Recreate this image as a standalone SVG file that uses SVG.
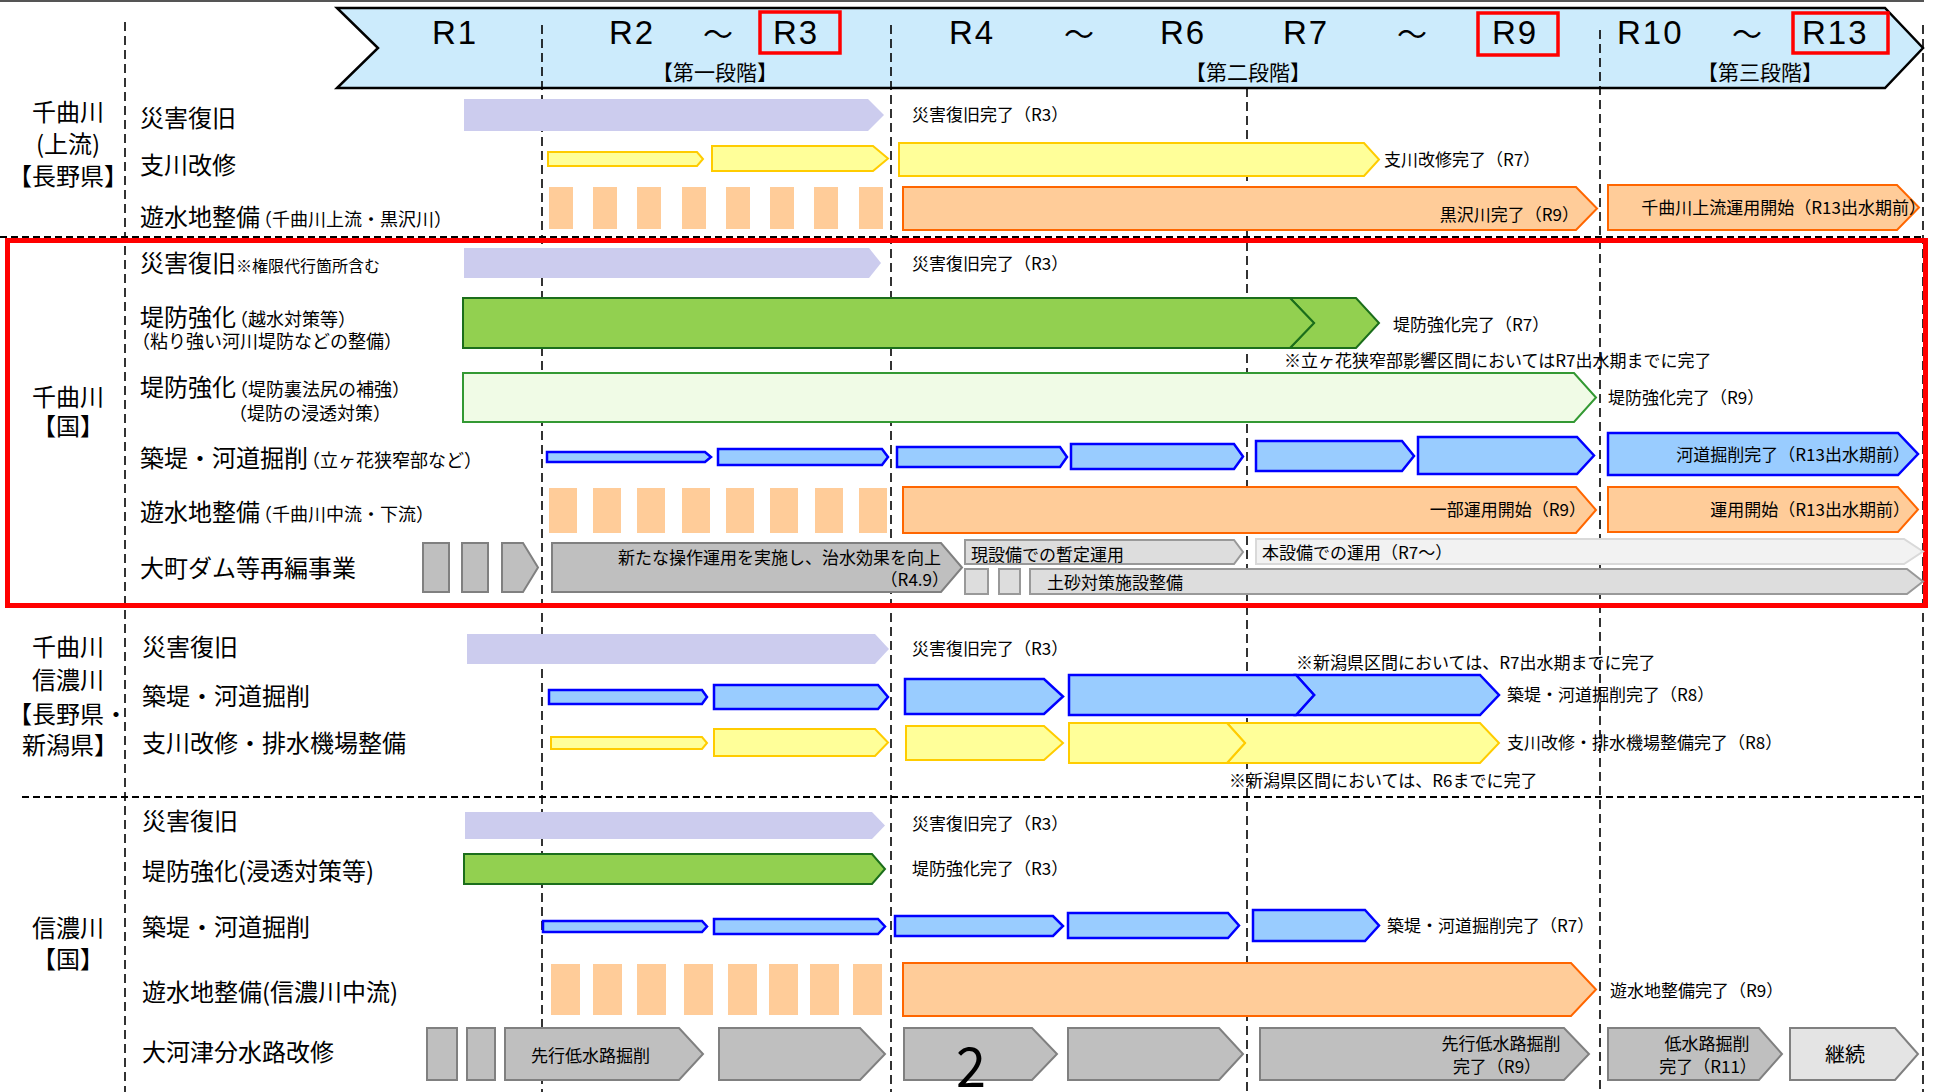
<svg xmlns="http://www.w3.org/2000/svg" width="1937" height="1092" viewBox="0 0 1937 1092">
<style>
text{font-family:"Noto Sans CJK JP","Noto Sans CJK SC",sans-serif;fill:#000}
.lbl{font-size:24px}
.sub{font-size:18px}
.ann{font-size:17px}
.hdr{font-family:"Liberation Sans",Arial,sans-serif;font-size:33px;letter-spacing:2px}
.til{font-size:30px}
.stg{font-size:21px}
.pur{fill:#CCCCEE}
.yel{fill:#FFFF99;stroke:#FFCC00;stroke-width:2}
.pch{fill:#FFCC99}
.org{fill:#FFCC99;stroke:#FF6600;stroke-width:2}
.blu{fill:#99CCFF;stroke:#0000FF;stroke-width:2.5}
.grn{fill:#92D050;stroke:#1B6E1B;stroke-width:2}
.lgr{fill:#F0FBE6;stroke:#339933;stroke-width:2}
.gry{fill:#BFBFBF;stroke:#808080;stroke-width:2}
.lgy{fill:#DDDDDD;stroke:#999999;stroke-width:2}
.vlg{fill:#F2F2F2;stroke:#D9D9D9;stroke-width:2}
.cnt{fill:#E4E4E4;stroke:#808080;stroke-width:2}
.vd{stroke:#000;stroke-width:1.6;stroke-dasharray:9 5;fill:none}
.hd{stroke:#000;stroke-width:2;stroke-dasharray:7 4;fill:none}
.rb{fill:none;stroke:#FF0000;stroke-width:3.5}
</style>
<rect x="0" y="0" width="1937" height="1092" fill="#FFFFFF"/>

<g id="grid">
<line x1="0" y1="1" x2="1924" y2="1" stroke="#555" stroke-width="2"/>
<line class="vd" x1="125" y1="22" x2="125" y2="1092"/>
<line class="vd" x1="542" y1="25" x2="542" y2="1092"/>
<line class="vd" x1="891" y1="25" x2="891" y2="1092"/>
<line class="vd" x1="1247" y1="88" x2="1247" y2="1092"/>
<line class="vd" x1="1600" y1="30" x2="1600" y2="1092"/>
<line class="vd" x1="1923" y1="25" x2="1923" y2="1092" stroke="#444"/>
<line class="hd" x1="0" y1="237" x2="1923" y2="237"/>
<line class="hd" x1="22" y1="797" x2="1923" y2="797"/>
</g>

<g id="header">
<polygon points="337,8 1885,8 1923,48 1885,88 337,88 378,48" fill="#CCEBFC" stroke="#000" stroke-width="2.5"/>
<line class="vd" x1="542" y1="25" x2="542" y2="88"/>
<line class="vd" x1="891" y1="25" x2="891" y2="88"/>
<line class="vd" x1="1600" y1="30" x2="1600" y2="88"/>
<text class="hdr" x="432" y="44">R1</text>
<text class="hdr" x="609" y="44">R2</text>
<text class="til" x="718" y="45" text-anchor="middle">～</text>
<text class="hdr" x="773" y="44">R3</text>
<text class="hdr" x="949" y="44">R4</text>
<text class="til" x="1079" y="45" text-anchor="middle">～</text>
<text class="hdr" x="1160" y="44">R6</text>
<text class="hdr" x="1283" y="44">R7</text>
<text class="til" x="1412" y="45" text-anchor="middle">～</text>
<text class="hdr" x="1492" y="44">R9</text>
<text class="hdr" x="1617" y="44">R10</text>
<text class="til" x="1747" y="45" text-anchor="middle">～</text>
<text class="hdr" x="1802" y="44">R13</text>
<text class="stg" x="715" y="80" text-anchor="middle">【第一段階】</text>
<text class="stg" x="1248" y="80" text-anchor="middle">【第二段階】</text>
<text class="stg" x="1760" y="80" text-anchor="middle">【第三段階】</text>
<rect class="rb" x="760" y="12" width="80" height="41"/>
<rect class="rb" x="1478" y="13" width="80" height="42"/>
<rect class="rb" x="1793" y="13" width="95" height="40"/>
</g>

<!-- Section 1 -->
<g id="sec1-label">
<text class="lbl" x="68" y="121" text-anchor="middle">千曲川</text>
<text class="lbl" x="68" y="153" text-anchor="middle">(上流)</text>
<text class="lbl" x="68" y="185" text-anchor="middle">【長野県】</text>
</g>
<g id="s1-saigai">
<text class="lbl" x="140" y="127">災害復旧</text>
<polygon class="pur" points="464,99 868,99 884,115 868,131 464,131"/>
<text class="ann" x="912" y="121">災害復旧完了（R3）</text>
</g>
<g id="s1-shisen">
<text class="lbl" x="140" y="174">支川改修</text>
<polygon class="yel" points="548,152 697,152 703,159 697,166 548,166"/>
<polygon class="yel" points="712,146 873,146 888,158.5 873,171 712,171"/>
<polygon class="yel" points="899,143 1364,143 1379,159.5 1364,176 899,176"/>
<text class="ann" x="1384" y="166">支川改修完了（R7）</text>
</g>
<g id="s1-yusui">
<text class="lbl" x="140" y="226">遊水地整備<tspan class="sub" dx="-6">（千曲川上流・黒沢川）</tspan></text>
<rect class="pch" x="549" y="187" width="24" height="42"/>
<rect class="pch" x="593" y="187" width="24" height="42"/>
<rect class="pch" x="637" y="187" width="24" height="42"/>
<rect class="pch" x="682" y="187" width="24" height="42"/>
<rect class="pch" x="726" y="187" width="24" height="42"/>
<rect class="pch" x="770" y="187" width="24" height="42"/>
<rect class="pch" x="814" y="187" width="24" height="42"/>
<rect class="pch" x="859" y="187" width="24" height="42"/>
<polygon class="org" points="903,187 1576,187 1597,208.5 1576,230 903,230"/>
<text class="ann" x="1579" y="221" text-anchor="end">黒沢川完了（R9）</text>
<polygon class="org" points="1608,185 1897,185 1919,207.5 1897,230 1608,230"/>
<text class="ann" x="1926" y="214" text-anchor="end">千曲川上流運用開始（R13出水期前）</text>
</g>

<!-- Section 2 -->
<g id="sec2-box">
<rect x="7.5" y="240.5" width="1918" height="365" fill="none" stroke="#FF0000" stroke-width="5"/>
</g>
<g id="sec2-label">
<text class="lbl" x="68" y="406" text-anchor="middle">千曲川</text>
<text class="lbl" x="68" y="435" text-anchor="middle">【国】</text>
</g>
<g id="s2-saigai">
<text class="lbl" x="140" y="272">災害復旧<tspan font-size="16px">※権限代行箇所含む</tspan></text>
<polygon class="pur" points="464,248 869,248 881,263 869,278 464,278"/>
<text class="ann" x="912" y="270">災害復旧完了（R3）</text>
</g>
<g id="s2-teibo1">
<text class="lbl" x="140" y="326">堤防強化<tspan class="sub" dx="-6">（越水対策等）</tspan></text>
<text class="sub" x="132" y="348">（粘り強い河川堤防などの整備）</text>
<polygon class="grn" points="1290,298 1356,298 1379,323 1356,348 1290,348 1314,323"/>
<polygon class="grn" points="463,298 1290,298 1314,323 1290,348 463,348"/>
<text class="ann" x="1393" y="331">堤防強化完了（R7）</text>
<text class="ann" x="1284" y="367">※立ヶ花狭窄部影響区間においてはR7出水期までに完了</text>
</g>
<g id="s2-teibo2">
<text class="lbl" x="140" y="396">堤防強化<tspan class="sub" dx="-6">（堤防裏法尻の補強）</tspan></text>
<text class="sub" x="229" y="420">（堤防の浸透対策）</text>
<polygon class="lgr" points="463,373 1574,373 1596,397.5 1574,422 463,422"/>
<text class="ann" x="1608" y="404">堤防強化完了（R9）</text>
</g>
<g id="s2-chikutei">
<text class="lbl" x="140" y="467">築堤・河道掘削<tspan class="sub" dx="-6">（立ヶ花狭窄部など）</tspan></text>
<polygon class="blu" points="547,452 705,452 711,457 705,462 547,462"/>
<polygon class="blu" points="718,449 882,449 888,457 882,465 718,465"/>
<polygon class="blu" points="897,447 1060,447 1067,457 1060,467 897,467"/>
<polygon class="blu" points="1071,444 1234,444 1243,456.5 1234,469 1071,469"/>
<polygon class="blu" points="1256,441 1402,441 1414,456 1402,471 1256,471"/>
<polygon class="blu" points="1418,437 1577,437 1594,455.5 1577,474 1418,474"/>
<polygon class="blu" points="1608,433 1898,433 1918,454 1898,475 1608,475"/>
<text class="ann" x="1910" y="461" text-anchor="end">河道掘削完了（R13出水期前）</text>
</g>
<g id="s2-yusui">
<text class="lbl" x="140" y="521">遊水地整備<tspan class="sub" dx="-6">（千曲川中流・下流）</tspan></text>
<rect class="pch" x="549" y="488" width="28" height="45"/>
<rect class="pch" x="593" y="488" width="28" height="45"/>
<rect class="pch" x="637" y="488" width="28" height="45"/>
<rect class="pch" x="682" y="488" width="28" height="45"/>
<rect class="pch" x="726" y="488" width="28" height="45"/>
<rect class="pch" x="770" y="488" width="28" height="45"/>
<rect class="pch" x="815" y="488" width="28" height="45"/>
<rect class="pch" x="859" y="488" width="28" height="45"/>
<polygon class="org" points="903,487 1576,487 1596,510 1576,533 903,533"/>
<text class="ann" x="1586" y="516" text-anchor="end">一部運用開始（R9）</text>
<polygon class="org" points="1608,487 1898,487 1918,509.5 1898,532 1608,532"/>
<text class="ann" x="1910" y="516" text-anchor="end">運用開始（R13出水期前）</text>
</g>
<g id="s2-omachi">
<text class="lbl" x="140" y="577">大町ダム等再編事業</text>
<rect class="gry" x="423" y="543" width="26" height="49"/>
<rect class="gry" x="462" y="543" width="26" height="49"/>
<polygon class="gry" points="502,543 523,543 538,567.5 523,592 502,592"/>
<polygon class="gry" points="552,543 941,543 962,567.5 941,592 552,592"/>
<text class="ann" x="941" y="564" text-anchor="end">新たな操作運用を実施し、治水効果を向上</text>
<text class="ann" x="949" y="586" text-anchor="end">（R4.9）</text>
<polygon class="lgy" points="965,540 1234,540 1243,552 1234,564 965,564"/>
<text class="ann" x="971" y="561">現設備での暫定運用</text>
<polygon class="vlg" points="1256,539 1904,539 1923,551.5 1904,564 1256,564"/>
<text class="ann" x="1262" y="559">本設備での運用（R7～）</text>
<rect class="lgy" x="965" y="569" width="23" height="25"/>
<rect class="lgy" x="999" y="569" width="21" height="25"/>
<polygon class="lgy" points="1030,569 1907,569 1923,581.5 1907,594 1030,594"/>
<text class="ann" x="1047" y="589">土砂対策施設整備</text>
</g>

<!-- Section 3 -->
<g id="sec3-label">
<text class="lbl" x="68" y="656" text-anchor="middle">千曲川</text>
<text class="lbl" x="68" y="689" text-anchor="middle">信濃川</text>
<text class="lbl" x="68" y="723" text-anchor="middle">【長野県・</text>
<text class="lbl" x="70" y="754" text-anchor="middle">新潟県】</text>
</g>
<g id="s3-saigai">
<text class="lbl" x="142" y="656">災害復旧</text>
<polygon class="pur" points="467,634 875,634 889,649 875,664 467,664"/>
<text class="ann" x="912" y="655">災害復旧完了（R3）</text>
</g>
<g id="s3-chikutei">
<text class="lbl" x="142" y="705">築堤・河道掘削</text>
<polygon class="blu" points="549,690 702,690 707,697 702,704 549,704"/>
<polygon class="blu" points="714,685 878,685 888,697 878,709 714,709"/>
<polygon class="blu" points="905,679 1044,679 1063,696.5 1044,714 905,714"/>
<polygon class="blu" points="1296,675 1480,675 1499,695 1480,715 1296,715 1314,695"/>
<polygon class="blu" points="1069,675 1296,675 1314,695 1296,715 1069,715"/>
<text class="ann" x="1296" y="669">※新潟県区間においては、R7出水期までに完了</text>
<text class="ann" x="1507" y="701">築堤・河道掘削完了（R8）</text>
</g>
<g id="s3-shisen">
<text class="lbl" x="142" y="752">支川改修・排水機場整備</text>
<polygon class="yel" points="551,737 702,737 707,743 702,749 551,749"/>
<polygon class="yel" points="714,729 875,729 888,742.5 875,756 714,756"/>
<polygon class="yel" points="906,726 1044,726 1063,743 1044,760 906,760"/>
<polygon class="yel" points="1227,723 1480,723 1499,743 1480,763 1227,763 1245,743"/>
<polygon class="yel" points="1069,723 1227,723 1245,743 1227,763 1069,763"/>
<text class="ann" x="1507" y="749">支川改修・排水機場整備完了（R8）</text>
<text class="ann" x="1229" y="787">※新潟県区間においては、R6までに完了</text>
</g>

<!-- Section 4 -->
<g id="sec4-label">
<text class="lbl" x="68" y="937" text-anchor="middle">信濃川</text>
<text class="lbl" x="68" y="968" text-anchor="middle">【国】</text>
</g>
<g id="s4-saigai">
<text class="lbl" x="142" y="830">災害復旧</text>
<polygon class="pur" points="465,812 872,812 885,825.5 872,839 465,839"/>
<text class="ann" x="912" y="830">災害復旧完了（R3）</text>
</g>
<g id="s4-teibo">
<text class="lbl" x="142" y="880">堤防強化(浸透対策等)</text>
<polygon class="grn" points="464,854 872,854 885,869 872,884 464,884"/>
<text class="ann" x="912" y="875">堤防強化完了（R3）</text>
</g>
<g id="s4-chikutei">
<text class="lbl" x="142" y="936">築堤・河道掘削</text>
<polygon class="blu" points="543,921 702,921 707,926.5 702,932 543,932"/>
<polygon class="blu" points="714,919 878,919 885,926.5 878,934 714,934"/>
<polygon class="blu" points="895,916 1053,916 1063,926 1053,936 895,936"/>
<polygon class="blu" points="1068,913 1228,913 1239,925.5 1228,938 1068,938"/>
<polygon class="blu" points="1253,910 1365,910 1379,925.5 1365,941 1253,941"/>
<text class="ann" x="1387" y="932">築堤・河道掘削完了（R7）</text>
</g>
<g id="s4-yusui">
<text class="lbl" x="142" y="1001">遊水地整備(信濃川中流)</text>
<rect class="pch" x="551" y="964" width="29" height="51"/>
<rect class="pch" x="593" y="964" width="29" height="51"/>
<rect class="pch" x="637" y="964" width="29" height="51"/>
<rect class="pch" x="684" y="964" width="29" height="51"/>
<rect class="pch" x="728" y="964" width="29" height="51"/>
<rect class="pch" x="769" y="964" width="29" height="51"/>
<rect class="pch" x="810" y="964" width="29" height="51"/>
<rect class="pch" x="853" y="964" width="29" height="51"/>
<polygon class="org" points="903,963 1571,963 1596,989.5 1571,1016 903,1016"/>
<text class="ann" x="1610" y="997">遊水地整備完了（R9）</text>
</g>
<g id="s4-okozu">
<text class="lbl" x="142" y="1061">大河津分水路改修</text>
<rect class="gry" x="427" y="1028" width="30" height="52"/>
<rect class="gry" x="467" y="1028" width="28" height="52"/>
<polygon class="gry" points="505,1028 679,1028 703,1054 679,1080 505,1080"/>
<text class="ann" x="531" y="1062">先行低水路掘削</text>
<polygon class="gry" points="719,1028 860,1028 885,1054 860,1080 719,1080"/>
<polygon class="gry" points="904,1028 1032,1028 1057,1054 1032,1080 904,1080"/>
<polygon class="gry" points="1068,1028 1219,1028 1243,1054 1219,1080 1068,1080"/>
<polygon class="gry" points="1260,1028 1564,1028 1589,1054 1564,1080 1260,1080"/>
<text class="ann" x="1501" y="1050" text-anchor="middle">先行低水路掘削</text>
<text class="ann" x="1497" y="1073" text-anchor="middle">完了（R9）</text>
<polygon class="gry" points="1608,1028 1759,1028 1782,1054 1759,1080 1608,1080"/>
<text class="ann" x="1707" y="1050" text-anchor="middle">低水路掘削</text>
<text class="ann" x="1708" y="1073" text-anchor="middle">完了（R11）</text>
<polygon class="cnt" points="1790,1028 1895,1028 1918,1054 1895,1080 1790,1080"/>
<text x="1845" y="1062" text-anchor="middle" font-size="20px">継続</text>
</g>
<g id="page-number">
<text x="971" y="1087" text-anchor="middle" font-family="Liberation Sans, Arial, sans-serif" font-size="54px">2</text>
</g>
</svg>
